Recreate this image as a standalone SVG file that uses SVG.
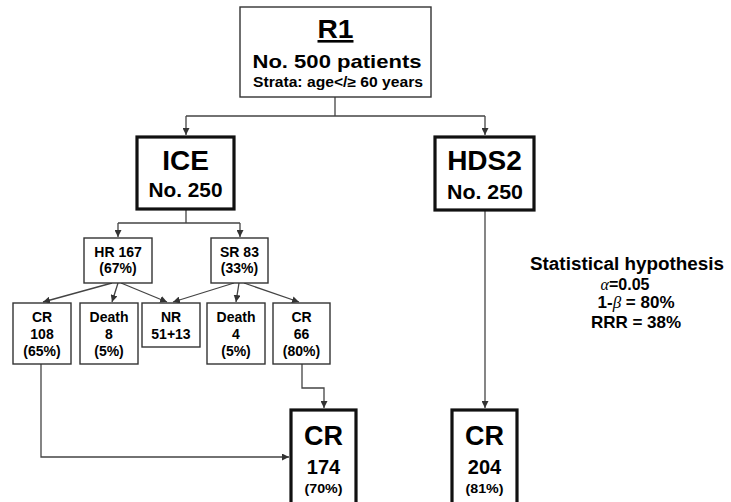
<svg xmlns="http://www.w3.org/2000/svg" width="731" height="502" viewBox="0 0 731 502">
<defs>
<marker id="ah" viewBox="0 0 10 10" refX="10" refY="5" markerWidth="7" markerHeight="7" markerUnits="userSpaceOnUse" orient="auto">
<path d="M0,0 L10,5 L0,10 z" fill="#333"/>
</marker>
<style>
text{font-family:"Liberation Sans",Arial,sans-serif;font-weight:bold;fill:#000;text-anchor:middle}
.thin{fill:#fff;stroke:#333;stroke-width:1.4}
.thick{fill:#fff;stroke:#111;stroke-width:3.2}
.c{fill:none;stroke:#444;stroke-width:1.3}
.a{marker-end:url(#ah)}
.s14{font-size:14px}
</style>
</defs>
<rect width="731" height="502" fill="#fff"/>

<g id="connectors">
<path class="c" d="M335,97 V116 M186,116 H485"/>
<path class="c a" d="M186,116 V135"/>
<path class="c a" d="M485,116 V135"/>
<path class="c" d="M186,210 V223 M118,223 H240"/>
<path class="c a" d="M118,223 V237"/>
<path class="c a" d="M240,223 V237"/>
<path class="c a" d="M112,283 L43,302"/>
<path class="c a" d="M118,283 L112,302"/>
<path class="c a" d="M121,283 L167,302"/>
<path class="c a" d="M234,283 L173,302"/>
<path class="c a" d="M239,283 L236,302"/>
<path class="c a" d="M244,283 L299,302"/>
<path class="c a" d="M41,364 V457 H289"/>
<path class="c a" d="M302,364 V388 H324 V408"/>
<path class="c a" d="M485,211 V408"/>
</g>

<g id="R1">
<rect class="thin" x="240" y="7" width="191" height="90" stroke-width="1.6"/>
<text x="335.5" y="38" font-size="26" text-decoration="underline" textLength="36" lengthAdjust="spacingAndGlyphs">R1</text>
<text x="337" y="68" font-size="19" textLength="169" lengthAdjust="spacingAndGlyphs">No. 500 patients</text>
<text x="338" y="87" font-size="14" textLength="170" lengthAdjust="spacingAndGlyphs">Strata: age&lt;/≥ 60 years</text>
</g>

<g id="ICE">
<rect class="thick" x="137" y="137" width="97" height="72"/>
<text x="185.5" y="170" font-size="28">ICE</text>
<text x="185.5" y="197" font-size="20" textLength="74" lengthAdjust="spacingAndGlyphs">No. 250</text>
</g>

<g id="HDS2">
<rect class="thick" x="435" y="137" width="99" height="73"/>
<text x="484.5" y="170" font-size="28">HDS2</text>
<text x="485" y="199" font-size="20" textLength="76" lengthAdjust="spacingAndGlyphs">No. 250</text>
</g>

<g id="HR">
<rect class="thin" x="84" y="238" width="68" height="45"/>
<text class="s14" x="118" y="257">HR 167</text>
<text class="s14" x="118" y="273">(67%)</text>
</g>

<g id="SR">
<rect class="thin" x="211" y="238" width="57" height="45"/>
<text class="s14" x="239.5" y="257">SR 83</text>
<text class="s14" x="239.5" y="273">(33%)</text>
</g>

<g id="CR108">
<rect class="thin" x="13" y="303" width="58" height="61"/>
<text class="s14" x="42" y="322">CR</text>
<text class="s14" x="42" y="339">108</text>
<text class="s14" x="42" y="356">(65%)</text>
</g>

<g id="Death8">
<rect class="thin" x="80" y="303" width="58" height="61"/>
<text class="s14" x="109" y="322">Death</text>
<text class="s14" x="109" y="339">8</text>
<text class="s14" x="109" y="356">(5%)</text>
</g>

<g id="NR">
<rect class="thin" x="142" y="303" width="58" height="44"/>
<text class="s14" x="171" y="322">NR</text>
<text class="s14" x="171" y="339">51+13</text>
</g>

<g id="Death4">
<rect class="thin" x="207" y="303" width="58" height="61"/>
<text class="s14" x="236" y="322">Death</text>
<text class="s14" x="236" y="339">4</text>
<text class="s14" x="236" y="356">(5%)</text>
</g>

<g id="CR66">
<rect class="thin" x="273" y="303" width="57" height="61"/>
<text class="s14" x="301.5" y="322">CR</text>
<text class="s14" x="301.5" y="339">66</text>
<text class="s14" x="301.5" y="356">(80%)</text>
</g>

<g id="CR174">
<rect class="thick" x="291" y="410" width="65" height="96"/>
<text x="323.5" y="445" font-size="27">CR</text>
<text x="323.5" y="474" font-size="20">174</text>
<text x="323.5" y="493" font-size="13" textLength="38" lengthAdjust="spacingAndGlyphs">(70%)</text>
</g>

<g id="CR204">
<rect class="thick" x="452" y="410" width="65" height="96"/>
<text x="484.5" y="445" font-size="27">CR</text>
<text x="484.5" y="474" font-size="20">204</text>
<text x="484.5" y="493" font-size="13" textLength="38" lengthAdjust="spacingAndGlyphs">(81%)</text>
</g>

<g id="hypothesis">
<text x="627" y="270" font-size="18" textLength="194" lengthAdjust="spacingAndGlyphs">Statistical hypothesis</text>
<text x="625" y="290" font-size="16"><tspan font-family="'Liberation Serif',serif" font-style="italic" font-weight="normal">α</tspan>=0.05</text>
<text x="636" y="308" font-size="17">1-<tspan font-family="'Liberation Serif',serif" font-style="italic" font-weight="normal">β</tspan> = 80%</text>
<text x="636" y="328" font-size="17">RRR = 38%</text>
</g>
</svg>
